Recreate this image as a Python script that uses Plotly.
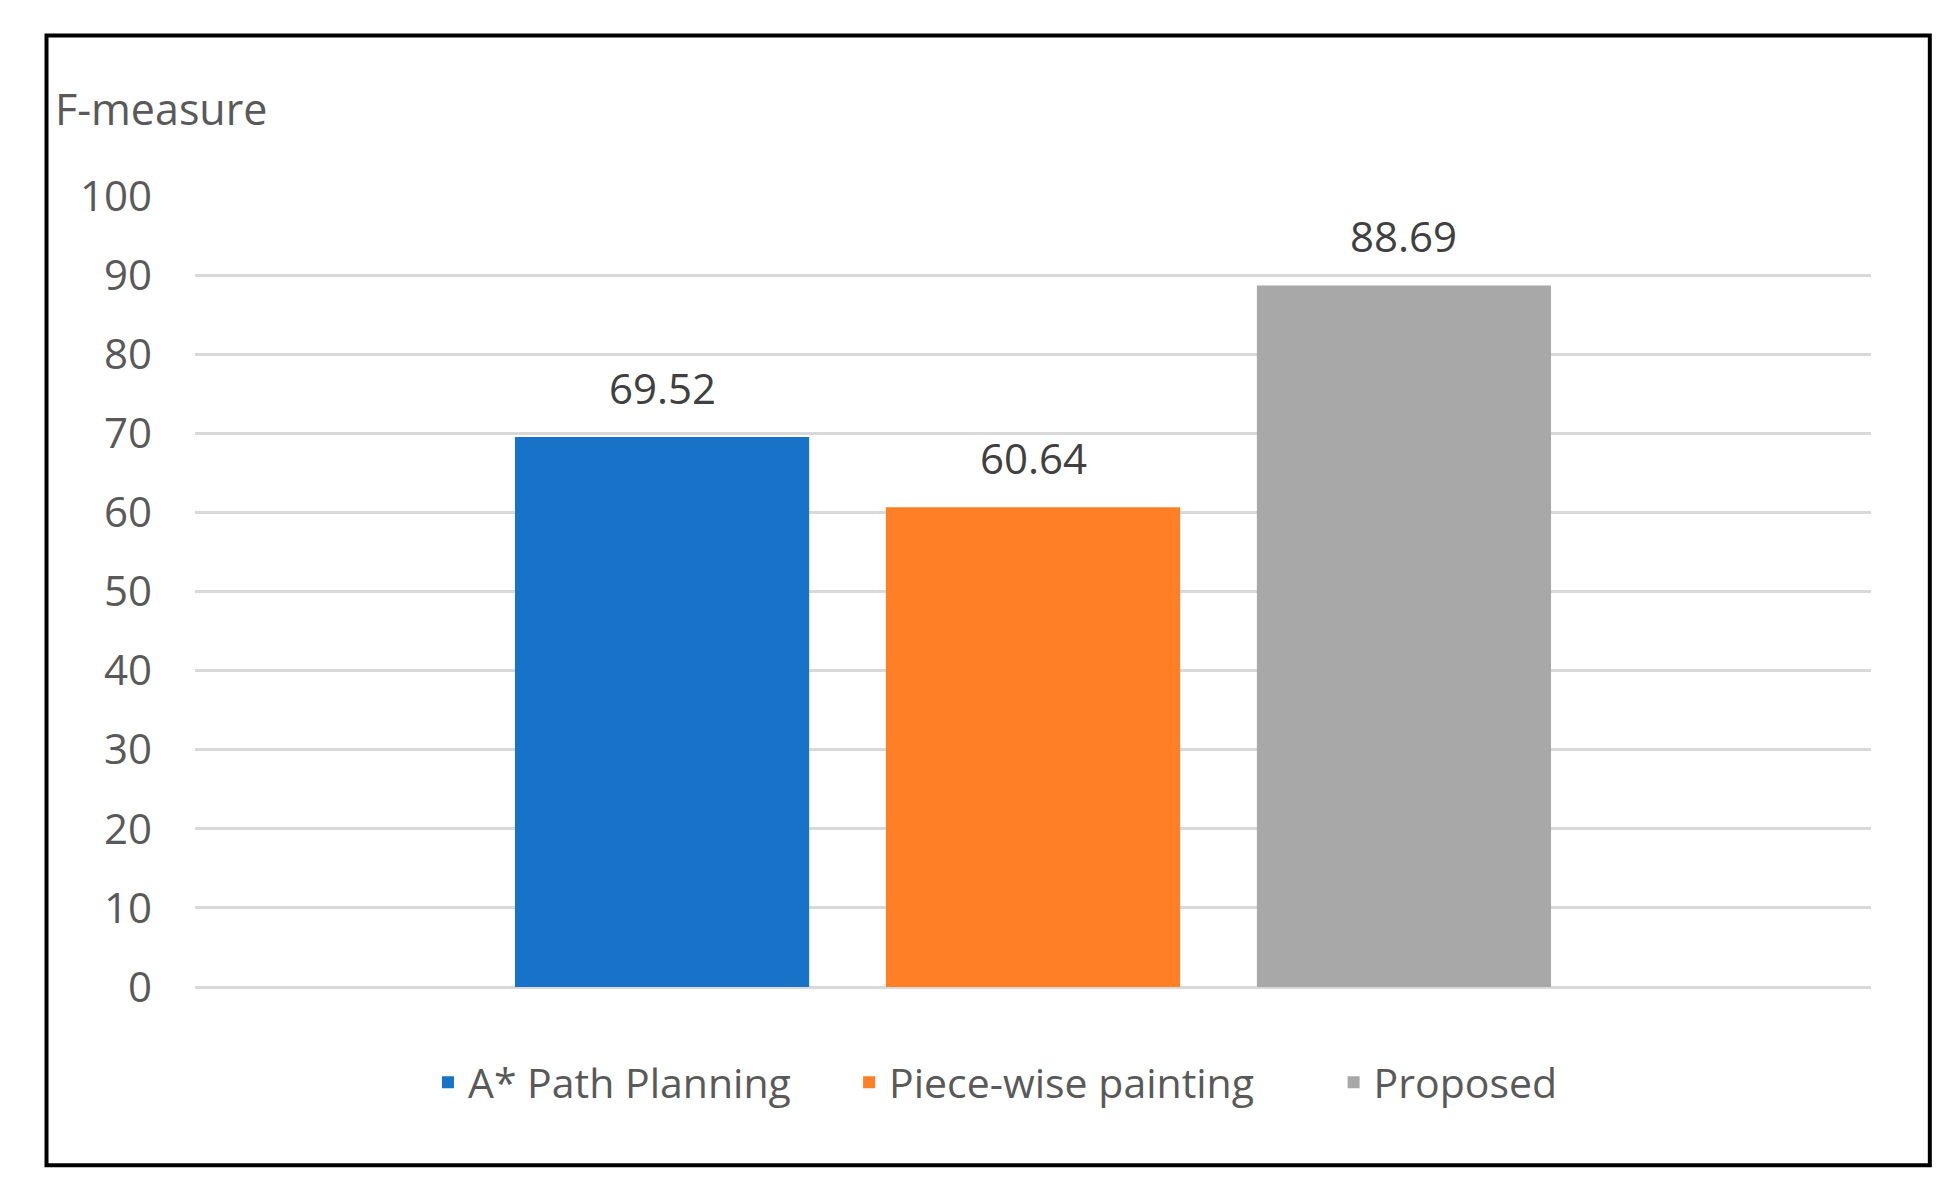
import plotly.graph_objects as go

# values
methods = ["A* Path Planning", "Piece-wise painting", "Proposed"]
f_measure = [69.52, 60.64, 88.69]
colors = ["#1772c8", "#fe7f26", "#a8a8a8"]
y_ticks = [0, 10, 20, 30, 40, 50, 60, 70, 80, 90, 100]

font_family = "Open Sans"
grey_text = "#595959"
W, H = 1937, 1179

fig = go.Figure()
pad = ["\u00a0" * 5, "\u00a0" * 7, ""]  # extra room between legend entries
for i, (name, val) in enumerate(zip(methods, f_measure)):
    fig.add_trace(go.Bar(x=[i], y=[val], name=name + pad[i],
                         marker_color=colors[i], marker_line_width=0,
                         width=0.793))
    fig.add_annotation(x=i, y=val, text=f"{val:.2f}", showarrow=False,
                       yanchor="middle", yshift=50,
                       font=dict(family=font_family, size=42, color="#404040"))

# outer frame
fig.add_shape(type="rect", xref="paper", yref="paper",
              x0=-0.0886, x1=1.0351, y0=-0.2254, y1=1.2028,
              line=dict(color="black", width=4), fillcolor="rgba(0,0,0,0)")

fig.update_layout(
    width=W, height=H,
    margin=dict(l=187, r=74, t=188, b=200),
    paper_bgcolor="white", plot_bgcolor="white",
    barmode="overlay",
    font=dict(family=font_family, size=42, color=grey_text),
    title=dict(text="F-measure", xref="container", yref="container",
               x=(55 - 8) / W, y=1 - (110 - 8) / H, xanchor="left", yanchor="middle",
               font=dict(family=font_family, size=43, color=grey_text)),
    showlegend=True,
    legend=dict(orientation="h", x=0.139, xanchor="left", y=-0.121, yanchor="middle",
                font=dict(family=font_family, size=41, color=grey_text),
                bgcolor="rgba(0,0,0,0)"),
    xaxis=dict(range=[-1.259, 3.259], showticklabels=False, showgrid=False,
               zeroline=False, showline=False),
    yaxis=dict(range=[0, 100], tickvals=y_ticks, showgrid=True,
               gridcolor="#d9d9d9", gridwidth=3, zeroline=True,
               zerolinecolor="#d9d9d9", zerolinewidth=3, showline=False,
               ticklabelstandoff=42,
               tickfont=dict(family=font_family, size=42, color=grey_text)),
)

fig.write_html("out.html")
